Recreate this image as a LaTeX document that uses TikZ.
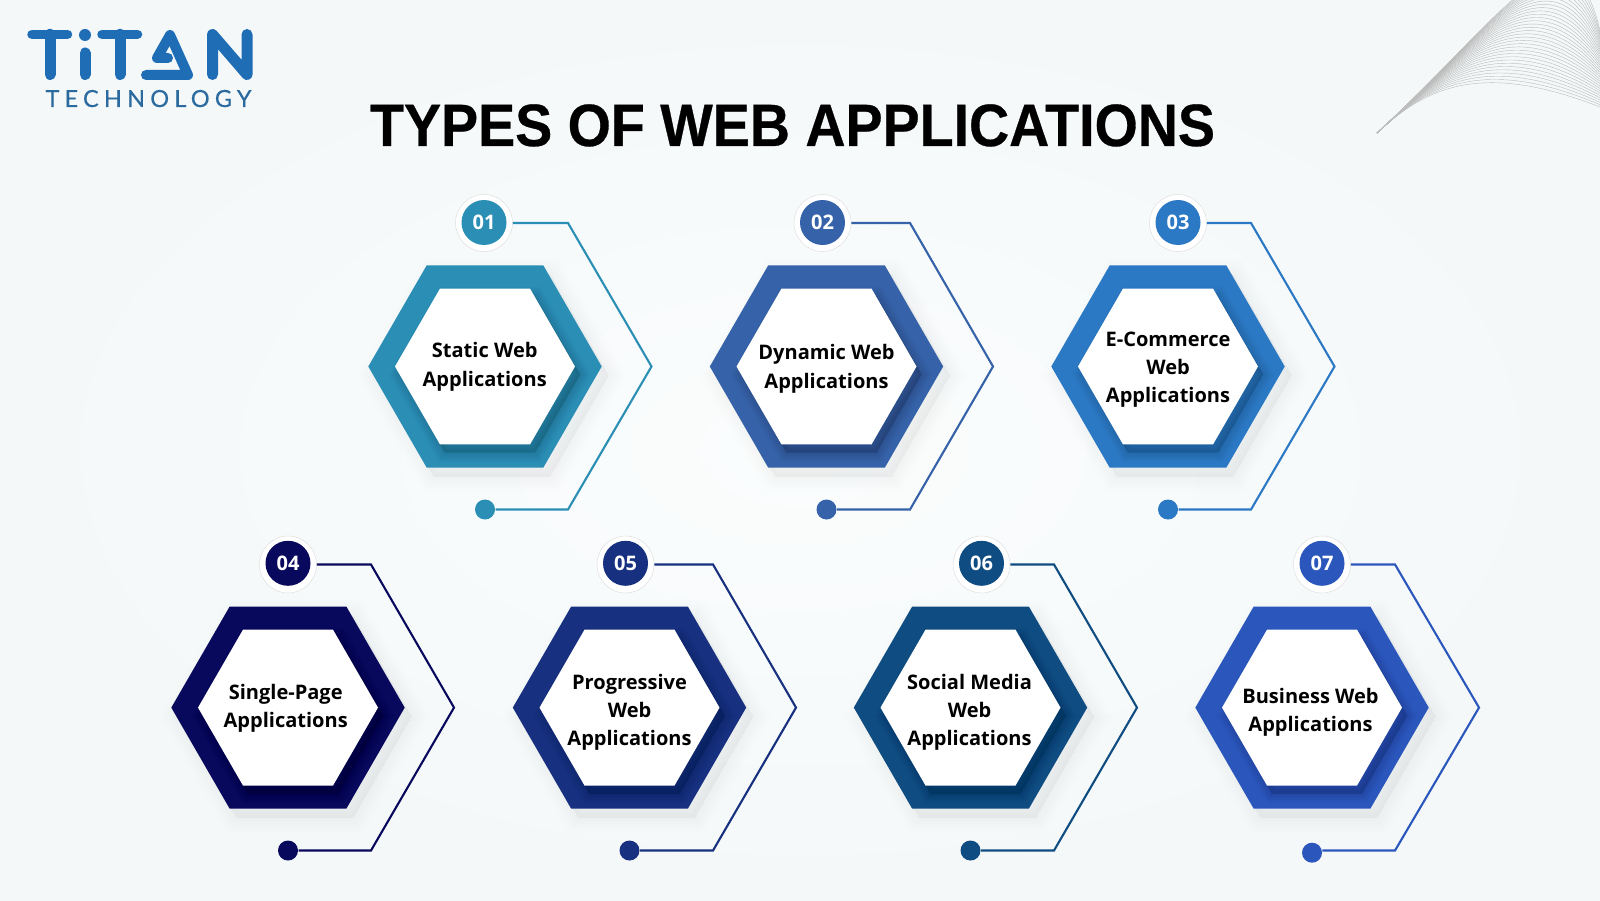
\documentclass[tikz,border=0pt]{standalone}
\usepackage{fontspec}
\usepackage{xcolor}
\usetikzlibrary{shapes.geometric}
\setmainfont{Open Sans}
\newfontfamily\titlefont[FakeStretch=0.93,BoldFeatures={FakeBold=0.5}]{Liberation Sans}
\newfontfamily\brandfont[LetterSpace=22,FakeBold=0.3]{Lato}
\definecolor{tone1}{HTML}{2A8EB5}
\definecolor{tone2}{HTML}{3562A8}
\definecolor{tone3}{HTML}{2B78C4}
\definecolor{tone4}{HTML}{08085C}
\definecolor{tone5}{HTML}{17307F}
\definecolor{tone6}{HTML}{0F4C81}
\definecolor{tone7}{HTML}{2B57BD}
\definecolor{brandblue}{HTML}{1F6DB5}
\definecolor{brandtext}{HTML}{2A6A9E}
\definecolor{paperin}{HTML}{FBFDFD}
\definecolor{paperout}{HTML}{F4F8F9}
\tikzset{
  hexa/.style={regular polygon,regular polygon sides=6,inner sep=0pt,outer sep=0pt},
  ringcast/.style={preaction={draw=black,fill=black,opacity=.0045,line width=#1,transform canvas={shift={(.07,-.09)}}}},
  corecast/.style={preaction={draw=black,fill=black,opacity=.016,line width=#1,transform canvas={shift={(.05,-.08)}}}},
  ring/.style={hexa,minimum size=2.334cm,ringcast=.5pt,ringcast=1.5pt,ringcast=2.5pt,ringcast=3.5pt,ringcast=4.5pt,ringcast=5.5pt,ringcast=6.5pt,ringcast=7.5pt,ringcast=9pt},
  core/.style={hexa,minimum size=1.8cm,fill=white,corecast=.3pt,corecast=1pt,corecast=1.7pt,corecast=2.4pt,corecast=3.1pt,corecast=3.8pt,corecast=4.5pt,corecast=5.5pt},
  caption/.style={align=center,inner sep=0pt,font=\fontsize{5.7}{8}\selectfont\bfseries},
  halo/.style={circle,minimum size=.57cm,inner sep=0pt,fill=white,draw=black!12,line width=.15pt},
  num/.style={circle,minimum size=.45cm,inner sep=0pt,text=white,font=\fontsize{5.7}{7}\selectfont\bfseries},
  tipdot/.style={circle,minimum size=.2cm,inner sep=0pt},
  link/.style={line width=.6pt},
  logostroke/.style={draw=brandblue,line cap=round,line join=round},
}
\begin{document}
\begin{tikzpicture}
\useasboundingbox (0,0) rectangle (16,9);
\shade[inner color=paperin,outer color=paperout] (0,0) rectangle (16,9);

\begin{scope}
\clip (0,0) rectangle (16,9);
\foreach \t in {0,0.03,...,1.01}{
  \pgfmathsetmacro{\ax}{14.25+.75*\t}
  \pgfmathsetmacro{\ay}{8.12+.67*\t}
  \pgfmathsetmacro{\bx}{14.8+.9*\t}
  \pgfmathsetmacro{\by}{8.4+1.6*\t}
  \pgfmathsetmacro{\ey}{7.93+.77*\t}
  \draw[black!26,line width=.12pt] (13.77,7.67) .. controls (\ax,\ay) and (\bx,\by) .. (16,\ey);
}
\end{scope}

\draw[logostroke,line width=.095cm] (.32,8.657) -- (.675,8.657);
\draw[logostroke,line width=.11cm] (.5,8.657) -- (.5,8.255);
\fill[brandblue] (.85,8.65) circle (.06);
\draw[logostroke,line width=.11cm] (.85,8.47) -- (.85,8.255);
\draw[logostroke,line width=.095cm] (1.02,8.657) -- (1.375,8.657);
\draw[logostroke,line width=.11cm] (1.2,8.657) -- (1.2,8.255);
\draw[logostroke,line width=.1cm] (1.46,8.25) -- (1.88,8.25) -- (1.7,8.65) -- (1.57,8.42) -- (1.68,8.42);
\draw[logostroke,line width=.11cm] (2.125,8.255) -- (2.125,8.655) -- (2.47,8.255) -- (2.47,8.655);
\node[brandtext,anchor=base,inner sep=0pt,font=\brandfont\fontsize{6.7}{8}\selectfont] (brand) at (1.485,7.93){TECHNOLOGY};

\node[anchor=base,inner sep=0pt,font=\titlefont\fontsize{17}{20}\selectfont\bfseries] (title) at (7.925,7.54){TYPES OF WEB APPLICATIONS};

\node[ring,fill=tone1] (hex1) at (4.85,5.335){};
\node[core] (core1) at (4.85,5.335){};
\node[caption] (text1) at (4.847,5.332){Static Web\\Applications};
\node[halo] (halo1) at (4.84,6.77){};
\node[num,fill=tone1] (num1) at (4.84,6.775){01};
\node[tipdot,fill=tone1] (dot1) at (4.85,3.905){};
\draw[link,tone1] (halo1.east) -- (5.68,6.77) -- (6.515,5.335) -- (5.68,3.905) -- (dot1);

\node[ring,fill=tone2] (hex2) at (8.265,5.335){};
\node[core] (core2) at (8.265,5.335){};
\node[caption] (text2) at (8.265,5.312){Dynamic Web\\Applications};
\node[halo] (halo2) at (8.225,6.77){};
\node[num,fill=tone2] (num2) at (8.225,6.775){02};
\node[tipdot,fill=tone2] (dot2) at (8.265,3.905){};
\draw[link,tone2] (halo2.east) -- (9.1,6.77) -- (9.93,5.335) -- (9.1,3.905) -- (dot2);

\node[ring,fill=tone3] (hex3) at (11.68,5.335){};
\node[core] (core3) at (11.68,5.335){};
\node[caption] (text3) at (11.68,5.307){E-Commerce\\Web\\Applications};
\node[halo] (halo3) at (11.78,6.77){};
\node[num,fill=tone3] (num3) at (11.78,6.775){03};
\node[tipdot,fill=tone3] (dot3) at (11.68,3.905){};
\draw[link,tone3] (halo3.east) -- (12.51,6.77) -- (13.345,5.335) -- (12.51,3.905) -- (dot3);

\node[ring,fill=tone4] (hex4) at (2.88,1.924){};
\node[core] (core4) at (2.88,1.924){};
\node[caption] (text4) at (2.857,1.919){Single-Page\\Applications};
\node[halo] (halo4) at (2.88,3.355){};
\node[num,fill=tone4] (num4) at (2.88,3.367){04};
\node[tipdot,fill=tone4] (dot4) at (2.88,.495){};
\draw[link,tone4] (halo4.east) -- (3.71,3.355) -- (4.54,1.924) -- (3.71,.495) -- (dot4);

\node[ring,fill=tone5] (hex5) at (6.295,1.924){};
\node[core] (core5) at (6.295,1.924){};
\node[caption] (text5) at (6.295,1.878){Progressive\\Web\\Applications};
\node[halo] (halo5) at (6.255,3.355){};
\node[num,fill=tone5] (num5) at (6.255,3.367){05};
\node[tipdot,fill=tone5] (dot5) at (6.295,.495){};
\draw[link,tone5] (halo5.east) -- (7.13,3.355) -- (7.96,1.924) -- (7.13,.495) -- (dot5);

\node[ring,fill=tone6] (hex6) at (9.705,1.924){};
\node[core] (core6) at (9.705,1.924){};
\node[caption] (text6) at (9.695,1.878){Social Media\\Web\\Applications};
\node[halo] (halo6) at (9.815,3.355){};
\node[num,fill=tone6] (num6) at (9.815,3.367){06};
\node[tipdot,fill=tone6] (dot6) at (9.705,.495){};
\draw[link,tone6] (halo6.east) -- (10.54,3.355) -- (11.37,1.924) -- (10.54,.495) -- (dot6);

\node[ring,fill=tone7] (hex7) at (13.12,1.924){};
\node[core] (core7) at (13.12,1.924){};
\node[caption] (text7) at (13.105,1.878){Business Web\\Applications};
\node[halo] (halo7) at (13.22,3.355){};
\node[num,fill=tone7] (num7) at (13.22,3.367){07};
\node[tipdot,fill=tone7] (dot7) at (13.12,.473){};
\draw[link,tone7] (halo7.east) -- (13.95,3.355) -- (14.79,1.924) -- (13.95,.495) -- (dot7.12);
\end{tikzpicture}
\end{document}
